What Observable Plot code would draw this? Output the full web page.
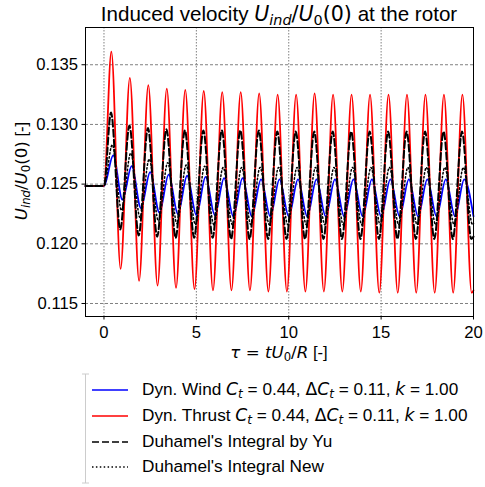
<!DOCTYPE html>
<html><head><meta charset="utf-8">
<script src="https://cdn.jsdelivr.net/npm/d3@7"></script>
<script src="https://cdn.jsdelivr.net/npm/@observablehq/plot@0.6"></script>
<style>
body{margin:0;background:#fff;}
#wrap{position:relative;width:485px;height:487px;font-family:"Liberation Sans",Arial,sans-serif;color:#000;overflow:hidden;background:#fff}
.mt{font-family:"DejaVu Sans",sans-serif}
i{font-style:italic}
.sb{font-size:0.7em;line-height:0;position:relative;top:0.28em}
#title{position:absolute;left:85px;width:388px;top:4px;text-align:center;font-size:20.6px;line-height:20.6px;white-space:nowrap}
#ylabel{position:absolute;left:22px;top:171px;transform:translate(-50%,-50%) rotate(-90deg);font-size:16.67px;line-height:16.67px;white-space:nowrap}
#xlabel{position:absolute;left:279px;top:353px;transform:translate(-50%,-50%);font-size:16.67px;line-height:16.67px;white-space:nowrap}
#chart{position:absolute;left:0;top:0}
#legend{position:absolute;left:0;top:0;width:485px;height:487px}
.row{position:absolute;left:142px;font-size:17.2px;line-height:17.2px;white-space:nowrap;transform:translateY(-50%)}
</style>
</head><body>
<div id="wrap">
  <div id="chart"></div>
  <div id="title">Induced velocity <span class="mt"><i>U<span class="sb">ind</span></i>/<i>U</i><span class="sb">0</span>(0)</span> at the rotor</div>
  <div id="ylabel"><span class="mt"><i>U<span class="sb">ind</span></i>/<i>U</i><span class="sb">0</span>(0)</span> [-]</div>
  <div id="xlabel"><span class="mt"><i>τ</i> = <i>tU</i><span class="sb">0</span>/<i>R</i></span> [-]</div>
  <div id="legend"></div>
</div>
<script>
// ---- data ----
const xTicks = [0, 5, 10, 15, 20];
const yTicks = [0.115, 0.120, 0.125, 0.130, 0.135];
const baseTau = [-1, 0];
const baseValue = 0.12485;

// Dyn. Thrust (red)
const redPeakTau = [0.4,1.4,2.4,3.4,4.4,5.4,6.4,7.4,8.4,9.4,10.4,11.4,12.4,13.4,14.4,15.4,16.4,17.4,18.4,19.4];
const redPeak = [0.1361,0.1339,0.1333,0.1330,0.1329,0.1328,0.1327,0.1327,0.1326,0.1325,0.1325,0.1326,0.1325,0.1325,0.1325,0.1325,0.1325,0.1325,0.1325,0.1325];
const redTroughTau = [0.9,1.9,2.9,3.9,4.9,5.9,6.9,7.9,8.9,9.9,10.9,11.9,12.9,13.9,14.9,15.9,16.9,17.9,18.9,19.9];
const redTrough = [0.1179,0.1169,0.1165,0.1163,0.1162,0.1161,0.1161,0.1161,0.1160,0.1160,0.1160,0.1160,0.1160,0.1160,0.1159,0.1159,0.1159,0.1159,0.1159,0.1159];
const redEnd = [20, 0.1161];

// Duhamel's Integral by Yu (dashed)
const yuPeakTau = [0.38,1.38,2.38,3.38,4.38,5.38,6.38,7.38,8.38,9.38,10.38,11.38,12.38,13.38,14.38,15.38,16.38,17.38,18.38,19.38];
const yuPeak = [0.1310,0.1299,0.1297,0.1296,0.1295,0.1295,0.1295,0.1295,0.1295,0.1294,0.1294,0.1294,0.1294,0.1294,0.1294,0.1294,0.1294,0.1294,0.1294,0.1294];
const yuTroughTau = [0.88,1.88,2.88,3.88,4.88,5.88,6.88,7.88,8.88,9.88,10.88,11.88,12.88,13.88,14.88,15.88,16.88,17.88,18.88,19.88];
const yuTrough = [0.1212,0.1207,0.1206,0.1205,0.1205,0.1205,0.1204,0.1204,0.1204,0.1204,0.1204,0.1204,0.1204,0.1204,0.1204,0.1204,0.1204,0.1204,0.1204,0.1204];
const yuEnd = [20, 0.1206];

// Dyn. Wind (blue)
const bluePeakTau = [0.5,1.5,2.5,3.5,4.5,5.5,6.5,7.5,8.5,9.5,10.5,11.5,12.5,13.5,14.5,15.5,16.5,17.5,18.5,19.5];
const bluePeak = [0.1274,0.1265,0.1260,0.1258,0.1257,0.1256,0.1255,0.1255,0.1254,0.1254,0.1254,0.1254,0.1254,0.1254,0.1254,0.1254,0.1254,0.1254,0.1254,0.1254];
const blueTroughTau = [1,2,3,4,5,6,7,8,9,10,11,12,13,14,15,16,17,18,19,20];
const blueTrough = [0.1237,0.1230,0.1226,0.1225,0.1224,0.1224,0.1223,0.1223,0.1223,0.1223,0.1223,0.1223,0.1223,0.1223,0.1223,0.1223,0.1223,0.1223,0.1223,0.1223];

// Duhamel's Integral New (dotted)
const newPeakTau = [0.45,1.45,2.45,3.45,4.45,5.45,6.45,7.45,8.45,9.45,10.45,11.45,12.45,13.45,14.45,15.45,16.45,17.45,18.45,19.45];
const newPeak = [0.1283,0.1276,0.1271,0.1268,0.1266,0.1265,0.1264,0.1264,0.1264,0.1264,0.1264,0.1264,0.1264,0.1264,0.1264,0.1264,0.1264,0.1264,0.1264,0.1264];
const newTroughTau = [0.95,1.95,2.95,3.95,4.95,5.95,6.95,7.95,8.95,9.95,10.95,11.95,12.95,13.95,14.95,15.95,16.95,17.95,18.95,19.95];
const newTrough = [0.1228,0.1222,0.1219,0.1217,0.1216,0.1216,0.1216,0.1216,0.1216,0.1216,0.1216,0.1216,0.1216,0.1216,0.1216,0.1216,0.1216,0.1216,0.1216,0.1216];
const newEnd = [20, 0.1217];

const legendLabels = [
  'Dyn. Wind <span class="mt"><i>C<span class="sb">t</span></i></span> = 0.44, <span class="mt">Δ<i>C<span class="sb">t</span></i></span> = 0.11, <span class="mt"><i>k</i></span> = 1.00',
  'Dyn. Thrust <span class="mt"><i>C<span class="sb">t</span></i></span> = 0.44, <span class="mt">Δ<i>C<span class="sb">t</span></i></span> = 0.11, <span class="mt"><i>k</i></span> = 1.00',
  "Duhamel's Integral by Yu",
  "Duhamel's Integral New"
];

function build(pt, pv, tt, tv, end) {
  const rows = baseTau.map(t => ({t, v: baseValue}));
  pt.forEach((t, i) => rows.push({t, v: pv[i]}));
  tt.forEach((t, i) => rows.push({t, v: tv[i]}));
  if (end) rows.push({t: end[0], v: end[1]});
  return rows.sort((a, b) => a.t - b.t);
}
const red = build(redPeakTau, redPeak, redTroughTau, redTrough, redEnd);
const yu = build(yuPeakTau, yuPeak, yuTroughTau, yuTrough, yuEnd);
const blue = build(bluePeakTau, bluePeak, blueTroughTau, blueTrough, null);
const nw = build(newPeakTau, newPeak, newTroughTau, newTrough, newEnd);

const styles = [
  {stroke: "#0000ff", strokeWidth: 1.8, dash: null},
  {stroke: "#ff0000", strokeWidth: 1.8, dash: null},
  {stroke: "#000000", strokeWidth: 2, dash: "7,3"},
  {stroke: "#000000", strokeWidth: 1.5, dash: "1.5,2.4"}
];

const chart = Plot.plot({
  width: 485, height: 360,
  marginTop: 27, marginBottom: 44, marginLeft: 85, marginRight: 12,
  style: {fontFamily: '"Liberation Sans", Arial, sans-serif', fontSize: "16.67px", background: "transparent", color: "#000", overflow: "visible"},
  x: {domain: [-1, 20]},
  y: {domain: [0.11391, 0.13812]},
  marks: [
    Plot.gridX(xTicks, {stroke: "#808080", strokeOpacity: 1, strokeWidth: 1, strokeDasharray: "1.5,1.5"}),
    Plot.gridY(yTicks, {stroke: "#808080", strokeOpacity: 1, strokeWidth: 1, strokeDasharray: "3,2"}),
    Plot.line(blue, {x: "t", y: "v", stroke: styles[0].stroke, strokeWidth: styles[0].strokeWidth, curve: "monotone-x"}),
    Plot.line(red, {x: "t", y: "v", stroke: styles[1].stroke, strokeWidth: styles[1].strokeWidth, curve: "monotone-x"}),
    Plot.line(yu, {x: "t", y: "v", stroke: styles[2].stroke, strokeWidth: styles[2].strokeWidth, strokeDasharray: styles[2].dash, curve: "monotone-x"}),
    Plot.line(nw, {x: "t", y: "v", stroke: styles[3].stroke, strokeWidth: styles[3].strokeWidth, strokeDasharray: styles[3].dash, curve: "monotone-x"}),
    Plot.frame({stroke: "#000", strokeWidth: 1}),
    Plot.axisX(xTicks, {tickSize: 3.5, tickPadding: 6, label: null, tickFormat: d => String(d)}),
    Plot.axisY(yTicks, {tickSize: 3.5, tickPadding: 4, label: null, tickFormat: d3.format(".3f")})
  ]
});
document.getElementById("chart").appendChild(chart);

// legend
const lg = document.getElementById("legend");
const rowY = [390, 416, 442, 467];
let svg = `<svg width="485" height="487" style="position:absolute;left:0;top:0">
  <line x1="85.5" y1="374" x2="85.5" y2="483" stroke="#cccccc" stroke-width="1"/>
  <line x1="82" y1="374" x2="89" y2="374" stroke="#cccccc" stroke-width="1"/>
  <line x1="82" y1="483" x2="89" y2="483" stroke="#cccccc" stroke-width="1"/>`;
styles.forEach((s, i) => {
  svg += `<line x1="92" x2="128" y1="${rowY[i]}" y2="${rowY[i]}" stroke="${s.stroke}" stroke-width="${Math.min(s.strokeWidth, 1.5)}" ${s.dash ? `stroke-dasharray="${s.dash}"` : ""}/>`;
});
svg += `</svg>`;
lg.innerHTML = svg + legendLabels.map((l, i) => `<div class="row" style="top:${rowY[i]}px">${l}</div>`).join("");
</script>
</body></html>
